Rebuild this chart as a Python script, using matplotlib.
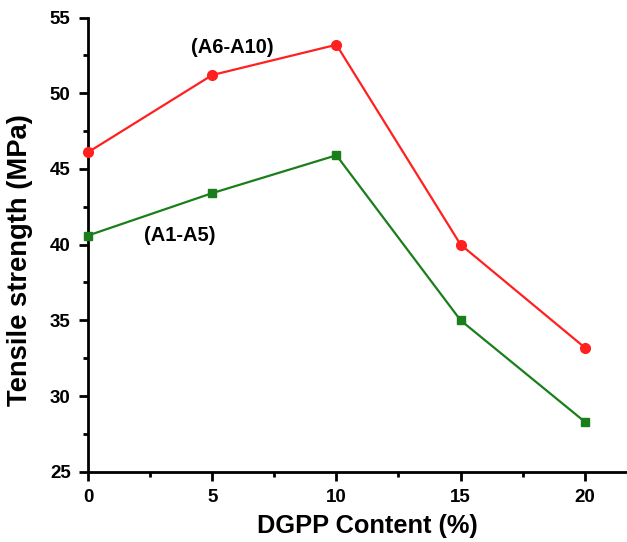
import matplotlib
matplotlib.use("Agg")
from matplotlib import pyplot as plt
from matplotlib.ticker import MultipleLocator

# DGPP content (%) and tensile strength (MPa) of the two series
dgpp = [0, 5, 10, 15, 20]
ts_a6_a10 = [46.1, 51.2, 53.2, 40.0, 33.2]
ts_a1_a5 = [40.6, 43.4, 45.9, 35.0, 28.3]

plt.rcParams['font.family'] = ['Liberation Sans', 'DejaVu Sans']
plt.rcParams['font.weight'] = 'bold'

fig = plt.figure(figsize=(6.27, 5.42), dpi=100)
ax = fig.add_axes([0.1404, 0.1297, 0.8596, 0.838])

ax.plot(dgpp, ts_a6_a10, color='#ff2020', lw=1.6, marker='o', ms=7,
        clip_on=False, zorder=3)
ax.plot(dgpp, ts_a1_a5, color='#1a7f1a', lw=1.6, marker='s', ms=6,
        clip_on=False, zorder=3)

ax.text(5.8, 53.05, '(A6-A10)', fontsize=14.5, fontweight='bold',
        ha='center', va='center')
ax.text(3.7, 40.6, '(A1-A5)', fontsize=14.5, fontweight='bold',
        ha='center', va='center')

ax.set_xlim(0, 21.7)
ax.set_ylim(25, 55)
ax.xaxis.set_major_locator(MultipleLocator(5))
ax.xaxis.set_minor_locator(MultipleLocator(2.5))
ax.yaxis.set_major_locator(MultipleLocator(5))
ax.yaxis.set_minor_locator(MultipleLocator(2.5))

for side in ['top', 'right']:
    ax.spines[side].set_visible(False)
for side in ['left', 'bottom']:
    ax.spines[side].set_linewidth(2)

ax.tick_params(which='major', direction='out', length=6.5, width=2,
               labelsize=13.5, pad=6)
ax.tick_params(which='minor', direction='out', length=3.5, width=2)
for lab in ax.get_xticklabels() + ax.get_yticklabels():
    lab.set_fontweight('bold')

ax.set_xlabel('DGPP Content (%)', fontsize=18.3, fontweight='bold')
ax.set_ylabel('Tensile strength (MPa)', fontsize=19.7, fontweight='bold')
ax.xaxis.set_label_coords(0.519, -0.094)
ax.yaxis.set_label_coords(-0.103, 0.467)

fig.savefig('out.png', dpi=100)
